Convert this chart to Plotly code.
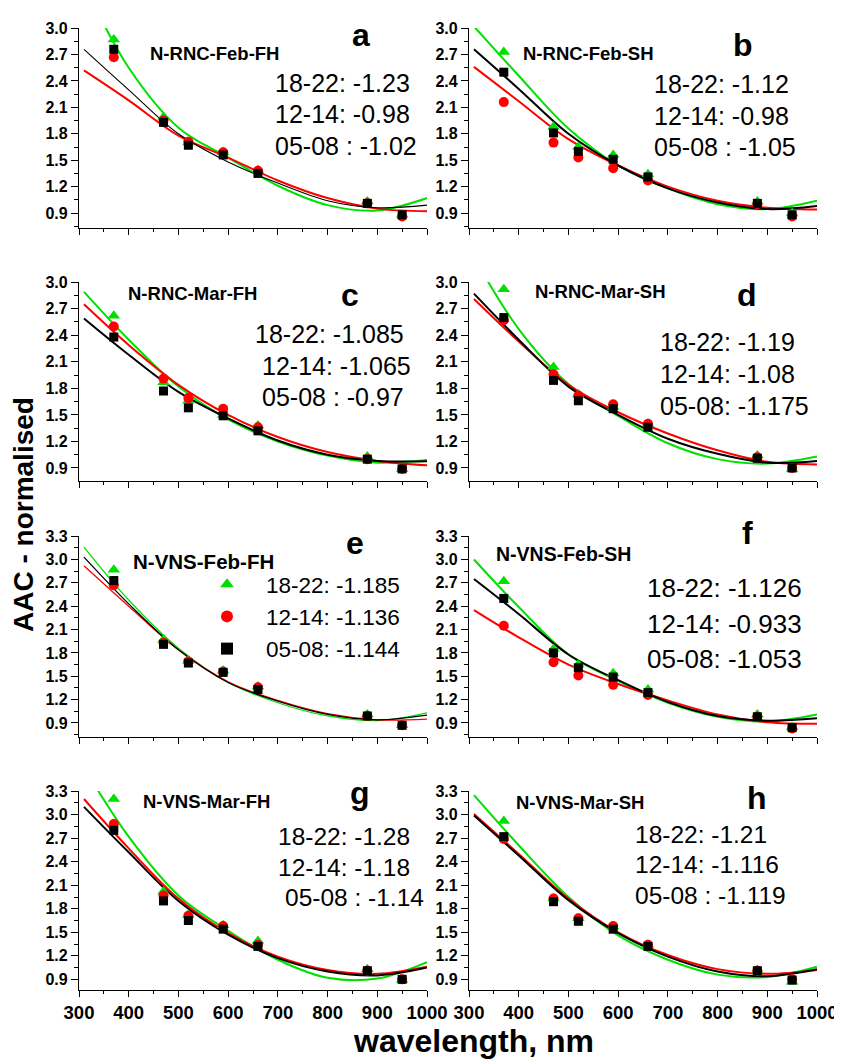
import plotly.graph_objects as go

# ---------------- data ----------------
WAVELENGTH = [370, 470, 520, 590, 660, 880, 950]
FIT_WAVELENGTH = [310, 400, 500, 600, 700, 800, 900, 1000]

SERIES_NAMES = ["18-22", "12-14", "05-08"]
PANEL_LETTERS = ["a", "b", "c", "d", "e", "f", "g", "h"]
PANEL_TITLES = ["N-RNC-Feb-FH", "N-RNC-Feb-SH", "N-RNC-Mar-FH", "N-RNC-Mar-SH",
                "N-VNS-Feb-FH", "N-VNS-Feb-SH", "N-VNS-Mar-FH", "N-VNS-Mar-SH"]
Y_TOP = [3.0, 3.0, 3.0, 3.0, 3.3, 3.3, 3.3, 3.3]
Y_BOTTOM = [0.73, 0.73, 0.753, 0.753, 0.72, 0.72, 0.764, 0.764]

# slopes printed in each panel (18-22, 12-14, 05-08)
a_text = ["18-22: -1.23", "12-14: -0.98", "05-08 : -1.02"]
b_text = ["18-22: -1.12", "12-14: -0.98", "05-08 : -1.05"]
c_text = ["18-22: -1.085", "12-14: -1.065", "05-08 : -0.97"]
d_text = ["18-22: -1.19", "12-14: -1.08", "05-08: -1.175"]
e_text = ["18-22: -1.185", "12-14: -1.136", "05-08: -1.144"]
f_text = ["18-22: -1.126", "12-14: -0.933", "05-08: -1.053"]
g_text = ["18-22: -1.28", "12-14: -1.18", "05-08 : -1.14"]
h_text = ["18-22: -1.21", "12-14: -1.116", "05-08 : -1.119"]

# measured points
a_pts_1822 = [2.87, 1.99, 1.70, 1.59, 1.39, 1.03, 0.88]
a_pts_1214 = [2.67, 1.95, 1.71, 1.59, 1.38, 1.01, 0.86]
a_pts_0508 = [2.76, 1.93, 1.67, 1.56, 1.35, 1.01, 0.88]
b_pts_1822 = [2.73, 1.88, 1.65, 1.56, 1.34, 1.03, 0.90]
b_pts_1214 = [2.16, 1.70, 1.53, 1.41, 1.27, 1.00, 0.86]
b_pts_0508 = [2.50, 1.81, 1.60, 1.51, 1.31, 1.01, 0.88]
c_pts_1822 = [2.62, 1.87, 1.66, 1.50, 1.38, 1.03, 0.89]
c_pts_1214 = [2.50, 1.91, 1.69, 1.57, 1.36, 1.00, 0.89]
c_pts_0508 = [2.38, 1.77, 1.58, 1.49, 1.32, 1.00, 0.89]
d_pts_1822 = [2.92, 2.04, 1.73, 1.59, 1.40, 1.04, 0.89]
d_pts_1214 = [2.57, 1.96, 1.72, 1.62, 1.40, 1.02, 0.90]
d_pts_0508 = [2.60, 1.89, 1.66, 1.57, 1.36, 1.01, 0.90]
e_pts_1822 = [2.87, 1.97, 1.70, 1.57, 1.37, 1.01, 0.87]
e_pts_1214 = [2.67, 1.93, 1.69, 1.56, 1.36, 0.99, 0.87]
e_pts_0508 = [2.73, 1.91, 1.67, 1.55, 1.33, 0.99, 0.87]
f_pts_1822 = [2.72, 1.85, 1.65, 1.54, 1.33, 1.01, 0.85]
f_pts_1214 = [2.15, 1.68, 1.51, 1.39, 1.26, 0.98, 0.83]
f_pts_0508 = [2.50, 1.80, 1.61, 1.49, 1.29, 0.98, 0.84]
g_pts_1822 = [3.20, 2.02, 1.72, 1.59, 1.39, 1.03, 0.89]
g_pts_1214 = [2.88, 1.97, 1.71, 1.58, 1.34, 1.01, 0.90]
g_pts_0508 = [2.80, 1.90, 1.65, 1.54, 1.32, 1.01, 0.90]
h_pts_1822 = [2.92, 1.93, 1.68, 1.57, 1.34, 1.02, 0.87]
h_pts_1214 = [2.69, 1.93, 1.68, 1.58, 1.34, 1.01, 0.90]
h_pts_0508 = [2.72, 1.89, 1.64, 1.54, 1.32, 1.01, 0.89]

# fitted curves, read at FIT_WAVELENGTH
a_fit_1822 = [3.50, 2.55, 1.87, 1.53, 1.21, 0.99, 0.93, 1.07]
a_fit_1214 = [2.52, 2.18, 1.78, 1.53, 1.27, 1.07, 0.95, 0.92]
a_fit_0508 = [2.76, 2.30, 1.80, 1.48, 1.24, 1.04, 0.96, 0.99]
b_fit_1822 = [3.02, 2.46, 1.86, 1.44, 1.18, 1.00, 0.945, 1.04]
b_fit_1214 = [2.56, 2.17, 1.74, 1.44, 1.20, 1.04, 0.96, 0.94]
b_fit_0508 = [2.76, 2.31, 1.80, 1.44, 1.18, 1.02, 0.945, 0.98]
c_fit_1822 = [2.89, 2.35, 1.82, 1.45, 1.20, 1.04, 0.96, 0.99]
c_fit_1214 = [2.75, 2.29, 1.84, 1.50, 1.25, 1.08, 0.98, 0.93]
c_fit_0508 = [2.59, 2.18, 1.76, 1.46, 1.21, 1.05, 0.98, 0.975]
d_fit_1822 = [3.28, 2.47, 1.85, 1.49, 1.18, 1.00, 0.95, 1.03]
d_fit_1214 = [2.81, 2.33, 1.84, 1.53, 1.29, 1.10, 0.97, 0.94]
d_fit_0508 = [2.87, 2.35, 1.82, 1.50, 1.23, 1.06, 0.96, 0.98]
e_fit_1822 = [3.16, 2.48, 1.86, 1.42, 1.16, 0.99, 0.93, 1.03]
e_fit_1214 = [2.92, 2.40, 1.84, 1.43, 1.19, 1.02, 0.94, 0.95]
e_fit_0508 = [3.03, 2.43, 1.84, 1.42, 1.18, 1.01, 0.94, 1.00]
f_fit_1822 = [3.00, 2.39, 1.78, 1.44, 1.16, 0.98, 0.92, 1.01]
f_fit_1214 = [2.35, 2.00, 1.65, 1.40, 1.19, 1.01, 0.91, 0.89]
f_fit_0508 = [2.75, 2.30, 1.78, 1.45, 1.17, 0.99, 0.93, 0.96]
g_fit_1822 = [3.60, 2.72, 1.97, 1.52, 1.15, 0.92, 0.91, 1.12]
g_fit_1214 = [3.20, 2.57, 1.93, 1.49, 1.19, 1.02, 0.97, 1.06]
g_fit_0508 = [3.10, 2.52, 1.90, 1.47, 1.17, 1.00, 0.95, 1.05]
h_fit_1822 = [3.25, 2.61, 1.95, 1.46, 1.15, 0.96, 0.93, 1.06]
h_fit_1214 = [3.01, 2.50, 1.93, 1.50, 1.21, 1.03, 0.97, 1.02]
h_fit_0508 = [2.99, 2.48, 1.91, 1.49, 1.19, 1.00, 0.94, 1.03]

PANEL_POINTS = [
    [a_pts_1822, a_pts_1214, a_pts_0508], [b_pts_1822, b_pts_1214, b_pts_0508],
    [c_pts_1822, c_pts_1214, c_pts_0508], [d_pts_1822, d_pts_1214, d_pts_0508],
    [e_pts_1822, e_pts_1214, e_pts_0508], [f_pts_1822, f_pts_1214, f_pts_0508],
    [g_pts_1822, g_pts_1214, g_pts_0508], [h_pts_1822, h_pts_1214, h_pts_0508],
]
PANEL_FITS = [
    [a_fit_1822, a_fit_1214, a_fit_0508], [b_fit_1822, b_fit_1214, b_fit_0508],
    [c_fit_1822, c_fit_1214, c_fit_0508], [d_fit_1822, d_fit_1214, d_fit_0508],
    [e_fit_1822, e_fit_1214, e_fit_0508], [f_fit_1822, f_fit_1214, f_fit_0508],
    [g_fit_1822, g_fit_1214, g_fit_0508], [h_fit_1822, h_fit_1214, h_fit_0508],
]
PANEL_TEXTS = [a_text, b_text, c_text, d_text, e_text, f_text, g_text, h_text]

# ---------------- style / layout ----------------
# The page body has an 8 px margin, so the figure is 8 px smaller than the
# window on each axis and all target positions (window pixels) are offset by 8.
PAGE_OFF = 8
W, H = 842 - PAGE_OFF, 1059 - PAGE_OFF
FONT = "Liberation Sans, Arial, Helvetica, sans-serif"
COLORS = ["#00e000", "#ff0000", "#000000"]
SYMBOLS = ["triangle-up", "circle", "square"]
SIZES = [11, 10, 9]


def px(x):
    return (x - PAGE_OFF) / W


def py(y):
    return 1 - (y - PAGE_OFF) / H


X_DOM = [(79, 427), (469, 817)]
Y_DOM = [(28, 228), (282, 481), (536, 737), (791, 990)]

fig = go.Figure()

for k in range(8):
    row, col = divmod(k, 2)
    ax = "" if k == 0 else str(k + 1)
    xref, yref = "x" + ax, "y" + ax
    line_w = [2, 2, 1.1] if k == 0 else ([1.3, 1.3, 1.3] if k == 4 else [2, 2, 2])
    for s in range(3):
        fig.add_trace(go.Scatter(
            x=FIT_WAVELENGTH, y=PANEL_FITS[k][s], mode="lines",
            line=dict(color=COLORS[s], width=line_w[s], shape="spline", smoothing=1.0),
            xaxis=xref, yaxis=yref, showlegend=False, hoverinfo="skip"))
    for s in range(3):
        fig.add_trace(go.Scatter(
            x=WAVELENGTH, y=PANEL_POINTS[k][s], mode="markers",
            marker=dict(color=COLORS[s], symbol=SYMBOLS[s], size=SIZES[s], line=dict(width=0)),
            name=PANEL_TEXTS[k][s], xaxis=xref, yaxis=yref,
            showlegend=(k == 4), cliponaxis=False))

    xa = dict(domain=[px(X_DOM[col][0]), px(X_DOM[col][1])], range=[300, 1000],
              anchor=yref, showline=True, linecolor="black", linewidth=1.2,
              ticks="outside", ticklen=6, tickwidth=1.2, tickcolor="black",
              tick0=300, dtick=100, showgrid=False, zeroline=False, automargin=False,
              showticklabels=(row == 3),
              tickfont=dict(family=FONT, size=18.5, color="black", weight="bold"),
              minor=dict(ticks="outside", ticklen=3, tickwidth=1.2, tickcolor="black",
                         tick0=300, dtick=50, showgrid=False))
    ya = dict(domain=[py(Y_DOM[row][1]), py(Y_DOM[row][0])],
              range=[Y_BOTTOM[k], Y_TOP[k] + 0.002],
              anchor=xref, showline=True, linecolor="black", linewidth=1.2,
              ticks="outside", ticklen=7, tickwidth=1.2, tickcolor="black",
              tick0=0.0, dtick=0.3, tickformat=".1f", showgrid=False, zeroline=False,
              automargin=False,
              tickfont=dict(family=FONT, size=16, color="black", weight="bold"),
              minor=dict(ticks="outside", ticklen=4, tickwidth=1.2, tickcolor="black",
                         tick0=0.0, dtick=0.15, showgrid=False))
    fig.layout["xaxis" + ax] = xa
    fig.layout["yaxis" + ax] = ya

annotations = []

# panel letters (centre px)
LETTER_POS = [(361, 35), (743, 45), (350, 295), (747, 295),
              (355, 543), (747, 533), (360, 793), (757, 798)]
for k, (x, y) in enumerate(LETTER_POS):
    annotations.append(dict(text=PANEL_LETTERS[k], x=px(x), y=py(y), xref="paper", yref="paper",
                            showarrow=False, xanchor="center", yanchor="middle",
                            font=dict(family=FONT, size=32, color="black", weight="bold")))

# panel titles
TITLE_POS = [(214, 53), (588, 53), (192, 293), (600, 291),
             (203, 561), (563, 554), (206, 801), (580, 802)]
TITLE_SIZE = [18.5, 18.5, 18.5, 18.5, 20.5, 19.5, 18.5, 18.5]
for k, (x, y) in enumerate(TITLE_POS):
    annotations.append(dict(text=PANEL_TITLES[k], x=px(x), y=py(y), xref="paper", yref="paper",
                            showarrow=False, xanchor="center", yanchor="middle",
                            font=dict(family=FONT, size=TITLE_SIZE[k], color="black", weight="bold")))

# slope texts (left px, centre y px of each line)
TEXT_POS = {
    0: [(273, 83), (273, 114), (273, 146)],
    1: [(652, 84), (652, 116), (652, 147)],
    2: [(253, 334), (260, 366), (260, 397)],
    3: [(658, 342), (658, 374), (658, 406)],
    5: [(645, 588), (645, 624), (645, 659)],
    6: [(276, 836), (276, 867), (283, 897)],
    7: [(633, 834), (633, 864), (633, 895)],
}
TEXT_SIZE = {0: 25, 1: 25, 2: 25, 3: 25, 5: 26, 6: 24.5, 7: 24.5}
for k, poss in TEXT_POS.items():
    for s, (x, y) in enumerate(poss):
        annotations.append(dict(text=PANEL_TEXTS[k][s], x=px(x), y=py(y), xref="paper", yref="paper",
                                showarrow=False, xanchor="left", yanchor="middle",
                                font=dict(family=FONT, size=TEXT_SIZE[k], color="black")))

# axis titles
annotations.append(dict(text="AAC - normalised", x=px(23), y=py(515), xref="paper", yref="paper",
                        showarrow=False, textangle=-90, xanchor="center", yanchor="middle",
                        font=dict(family=FONT, size=28, color="black", weight="bold")))
annotations.append(dict(text="wavelength, nm", x=px(473), y=py(1041), xref="paper", yref="paper",
                        showarrow=False, xanchor="center", yanchor="middle",
                        font=dict(family=FONT, size=32, color="black", weight="bold")))

fig.update_layout(
    width=W, height=H, margin=dict(l=0, r=0, t=0, b=0, pad=0, autoexpand=False),
    paper_bgcolor="white", plot_bgcolor="white",
    annotations=annotations,
    showlegend=True,
    legend=dict(x=px(188), y=py(563), xanchor="left", yanchor="top",
                bgcolor="rgba(0,0,0,0)", borderwidth=0, itemsizing="constant",
                itemwidth=68, tracegroupgap=0,
                font=dict(family=FONT, size=22.5, color="black")),
)

fig.write_html("out.html")
